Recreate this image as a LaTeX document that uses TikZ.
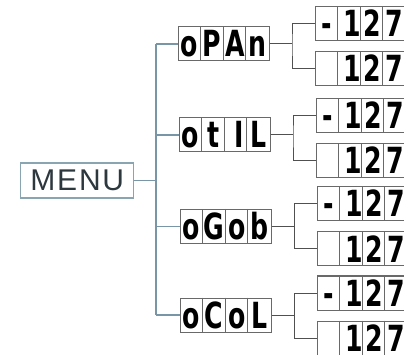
\documentclass[tikz,border=0pt]{standalone}
\usepackage{fontspec}
\setmainfont{Liberation Sans}
\newfontfamily\segfont{DejaVu Sans}
\definecolor{menuc}{RGB}{138,165,178}
\definecolor{trunkc}{RGB}{120,150,165}
\definecolor{menutext}{RGB}{45,55,62}
\definecolor{dispc}{RGB}{105,105,105}
\definecolor{rconnc}{RGB}{80,80,80}
\newcommand\mydisp[7]{%
  \node[disp] (#1) at ({#2+45.5},{#3+17}) {};
  \foreach \k in {1,2,3} {\draw[dispc, line width=0.9pt] ([xshift=\k*22.75pt]#1.north west) -- ([xshift=\k*22.75pt]#1.south west);}
  \node[seg] (#1-1) at ({#2+11.375},{#3+30}) {\scalebox{0.7}[1]{#4}};
  \node[seg] (#1-2) at ({#2+34.125},{#3+30}) {\scalebox{0.7}[1]{#5}};
  \node[seg] (#1-3) at ({#2+56.875},{#3+30}) {\scalebox{0.7}[1]{#6}};
  \node[seg] (#1-4) at ({#2+79.625},{#3+30}) {\scalebox{0.7}[1]{#7}};
}
\begin{document}
\begin{tikzpicture}[x=1pt,y=-1pt,
  menubox/.style={draw=menuc, line width=1.3pt, minimum width=113pt, minimum height=35pt, inner sep=0pt, text=menutext, font=\fontsize{30}{30}\selectfont\addfontfeature{LetterSpace=6}},
  disp/.style={draw=dispc, line width=1pt, minimum width=91pt, minimum height=34pt, inner sep=0pt},
  seg/.style={anchor=base, inner sep=0pt, font=\segfont\bfseries\fontsize{36}{36}\selectfont, text=black},
  trunk/.style={draw=trunkc, line width=1.1pt},
  rconn/.style={draw=rconnc, line width=1pt}]
\clip (0,0) rectangle (404,355);
\node[menubox] (menu) at (77.3,180.5) {MENU};
\coordinate (j) at (156,180.5);
\coordinate (t1) at (156,44);
\coordinate (t2) at (156,135);
\coordinate (t3) at (156,226.5);
\coordinate (t4) at (156,315);
% left displays
\mydisp{d1}{178}{27}{o}{P}{A}{n}
\mydisp{d2}{179}{118}{o}{t}{\kern10pt I}{L}
\mydisp{d3}{180}{209.5}{o}{G}{o}{b}
\mydisp{d4}{180}{298}{o}{C}{o}{L}
% right displays
\mydisp{r11}{315}{7}{-}{\kern8pt 1}{2}{7}
\mydisp{r12}{315}{52}{}{\kern8pt 1}{2}{7}
\mydisp{r21}{316}{99}{-}{\kern8pt 1}{2}{7}
\mydisp{r22}{316}{144}{}{\kern8pt 1}{2}{7}
\mydisp{r31}{317}{187}{-}{\kern8pt 1}{2}{7}
\mydisp{r32}{317}{232}{}{\kern8pt 1}{2}{7}
\mydisp{r41}{317}{276}{-}{\kern8pt 1}{2}{7}
\mydisp{r42}{317}{321}{}{\kern8pt 1}{2}{7}
% trunk
\draw[trunk] (menu.east) -- (j);
\draw[trunk] (t1) -- (t4);
\draw[trunk] (t1) -- (d1.west);
\draw[trunk] (t2) -- (d2.west);
\draw[trunk] (t3) -- (d3.west);
\draw[trunk] (t4) -- (d4.west);
% forks
\coordinate (f1) at (292,44);
\coordinate (f2) at (293,135);
\coordinate (f3) at (294.5,226.5);
\coordinate (f4) at (294.5,315);
\draw[rconn] (d1.east) -- (f1);
\draw[rconn] (d2.east) -- (f2);
\draw[rconn] (d3.east) -- (f3);
\draw[rconn] (d4.east) -- (f4);
\draw[rconn] (r11.west) -| (f1) |- (r12.west);
\draw[rconn] (r21.west) -| (f2) |- (r22.west);
\draw[rconn] (r31.west) -| (f3) |- (r32.west);
\draw[rconn] (r41.west) -| (f4) |- (r42.west);
\end{tikzpicture}
\end{document}
